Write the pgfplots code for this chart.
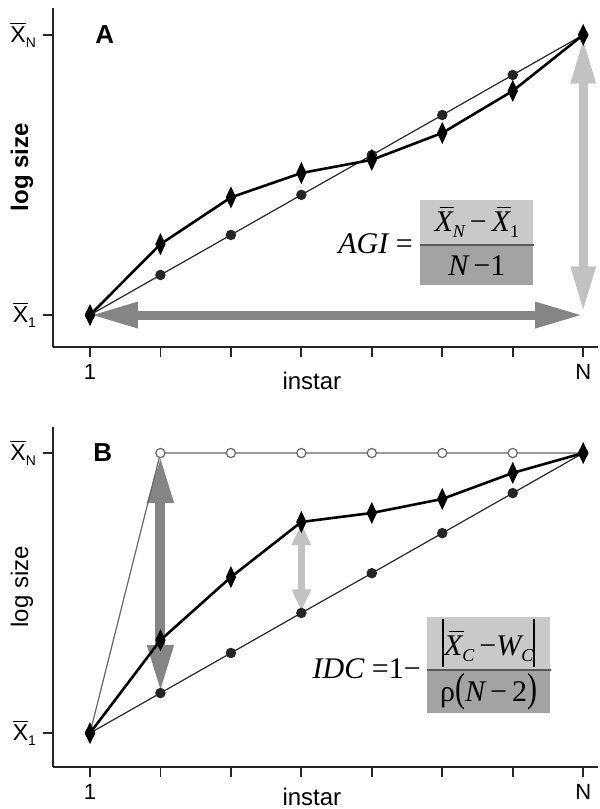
\documentclass[border=0pt]{standalone}
\usepackage{fontspec}
\setmainfont{Liberation Sans}
\newfontfamily\tms{Liberation Serif}
\usepackage{graphicx}
\usepackage{pgfplots}
\pgfplotsset{compat=1.18}
\usetikzlibrary{arrows.meta}

\definecolor{boxlight}{gray}{0.79}
\definecolor{boxdark}{gray}{0.64}
\definecolor{arrdark}{gray}{0.52}
\definecolor{arrlight}{gray}{0.76}

% formula helpers (Times-like)
\newcommand\fbig{\tms\fontsize{15}{18}\selectfont}
\newcommand\ovX{\makebox[0pt][l]{\hspace{0.17em}\rule[0.76em]{0.48em}{0.05em}}X}
\newcommand\sub[1]{\raisebox{-3pt}{\fontsize{9}{10}\selectfont #1}}
\newcommand\ytl[1]{$\overline{\mbox{X}}\mbox{\fontsize{7}{8}\selectfont\raisebox{-2.8pt}{#1}}$}

\pgfplotsset{panel/.style={
  scale only axis, width=272.5pt,
  axis x line*=bottom, axis y line*=left,
  axis line style={line width=0.9pt, black!85},
  xmin=0.475, xmax=8.21,
  xtick={1,...,8}, xticklabels={1,,,,,,,N},
  ytick={1,0}, yticklabels={\ytl{N},\ytl{1}},
  tick align=outside, major tick length=5pt,
  tick style={line width=0.9pt, black!85},
  xticklabel style={font=\fontsize{11}{12}\selectfont},
  yticklabel style={font=\fontsize{11.5}{13}\selectfont},
  xlabel style={at={(axis description cs:0.475,-0.1)}, anchor=center, font=\fontsize{12}{14}\selectfont},
  ylabel style={at={(axis description cs:-0.057,0.53)}, anchor=center},
  clip=false,
}}

\begin{document}
\begin{tikzpicture}
\useasboundingbox (0,0) rectangle (300pt,404.5pt);

% ---------------- panel A
\begin{axis}[panel, at={(26.5pt,231pt)}, anchor=south west,
  height=169.5pt, ymin=-0.114, ymax=1.096,
  xlabel={instar}, ylabel={\fontsize{12}{14}\selectfont\bfseries log size}]

\draw[arrdark, line width=4.5pt, {Triangle[width=12pt,length=24pt]}-{Triangle[width=12pt,length=24pt]}]
  (axis cs:1,0) -- (axis cs:8,0);
\draw[arrlight, line width=4.5pt, {Triangle[width=11.5pt,length=23pt]}-{Triangle[width=11.5pt,length=23pt]}]
  (axis cs:8,0.01) -- (axis cs:8,0.99);

\addplot[black!85, line width=0.6pt, mark=*, mark size=2.3pt]
  coordinates {(1,0)(2,0.143)(3,0.286)(4,0.429)(5,0.571)(6,0.714)(7,0.857)(8,1)};
\addplot[black, line width=1.3pt, mark=diamond*, mark size=4pt, mark options={xscale=0.62}]
  coordinates {(1,0)(2,0.253)(3,0.42)(4,0.507)(5,0.554)(6,0.65)(7,0.80)(8,1)};

\node[font=\fontsize{13}{15}\selectfont\bfseries] at (axis cs:1.21,1.0) {A};

\node[fill=boxlight, minimum width=56.5pt, minimum height=22.5pt, inner sep=0pt, anchor=south]
  (na) at (axis cs:6.49,0.25) {\fbig\itshape\ovX\sub{N}\,\upshape−\,\itshape\ovX\sub{\upshape 1}};
\node[fill=boxdark, minimum width=56.5pt, minimum height=20pt, inner sep=0pt, anchor=north]
  at (axis cs:6.49,0.25) {\fbig\itshape N\,\upshape−1};
\draw[black!65, line width=0.8pt] (na.south west) -- (na.south east);
\node[anchor=base east, inner sep=0pt, xshift=-3.5pt, yshift=-4pt]
  at (axis cs:5.685,0.25) {\fbig\itshape AGI \upshape=};
\end{axis}

% ---------------- panel B
\begin{axis}[panel, at={(26.5pt,21pt)}, anchor=south west,
  height=170pt, ymin=-0.121, ymax=1.093,
  xlabel style={at={(axis description cs:0.475,-0.088)}},
  xlabel={instar}, ylabel={\fontsize{12}{14}\selectfont log size}]

\draw[arrdark, line width=5pt, {Triangle[width=12pt,length=24pt]}-{Triangle[width=12pt,length=24pt]}]
  (axis cs:2,0.143) -- (axis cs:2,0.993);
\draw[arrlight, line width=3.5pt, {Triangle[width=9pt,length=11pt]}-{Triangle[width=9pt,length=11pt]}]
  (axis cs:4,0.435) -- (axis cs:4,0.75);

\addplot[black!60, line width=0.6pt, mark=*, mark size=2.3pt, mark indices={2,...,7},
  mark options={fill=white, draw=black!60, line width=0.6pt}]
  coordinates {(1,0)(2,1)(3,1)(4,1)(5,1)(6,1)(7,1)(8,1)};
\addplot[black!85, line width=0.6pt, mark=*, mark size=2.3pt]
  coordinates {(1,0)(2,0.143)(3,0.286)(4,0.429)(5,0.571)(6,0.714)(7,0.857)(8,1)};
\addplot[black, line width=1.3pt, mark=diamond*, mark size=4pt, mark options={xscale=0.62}]
  coordinates {(1,0)(2,0.332)(3,0.557)(4,0.754)(5,0.786)(6,0.836)(7,0.929)(8,1)};

\node[font=\fontsize{13}{15}\selectfont\bfseries] at (axis cs:1.18,1.0) {B};

\node[fill=boxlight, minimum width=61.5pt, minimum height=26.5pt, inner sep=0pt, anchor=south]
  (nb) at (axis cs:6.658,0.225)
  {\fbig\rule[-6pt]{0.8pt}{24pt}\itshape\ovX\sub{C}\,\upshape−\itshape W\sub{C}\rule[-6pt]{0.8pt}{24pt}};
\node[fill=boxdark, minimum width=61.5pt, minimum height=21.5pt, inner sep=0pt, anchor=north]
  at (axis cs:6.658,0.225)
  {\fbig\upshape ρ\scalebox{1}[1.35]{(}\itshape N\,\upshape−\,2\scalebox{1}[1.35]{)}};
\draw[black!65, line width=0.8pt] (nb.south west) -- (nb.south east);
\node[anchor=base east, inner sep=0pt, xshift=-3pt, yshift=-4pt]
  at (axis cs:5.785,0.225) {\fbig\itshape IDC \upshape=1−};
\end{axis}
\end{tikzpicture}
\end{document}
